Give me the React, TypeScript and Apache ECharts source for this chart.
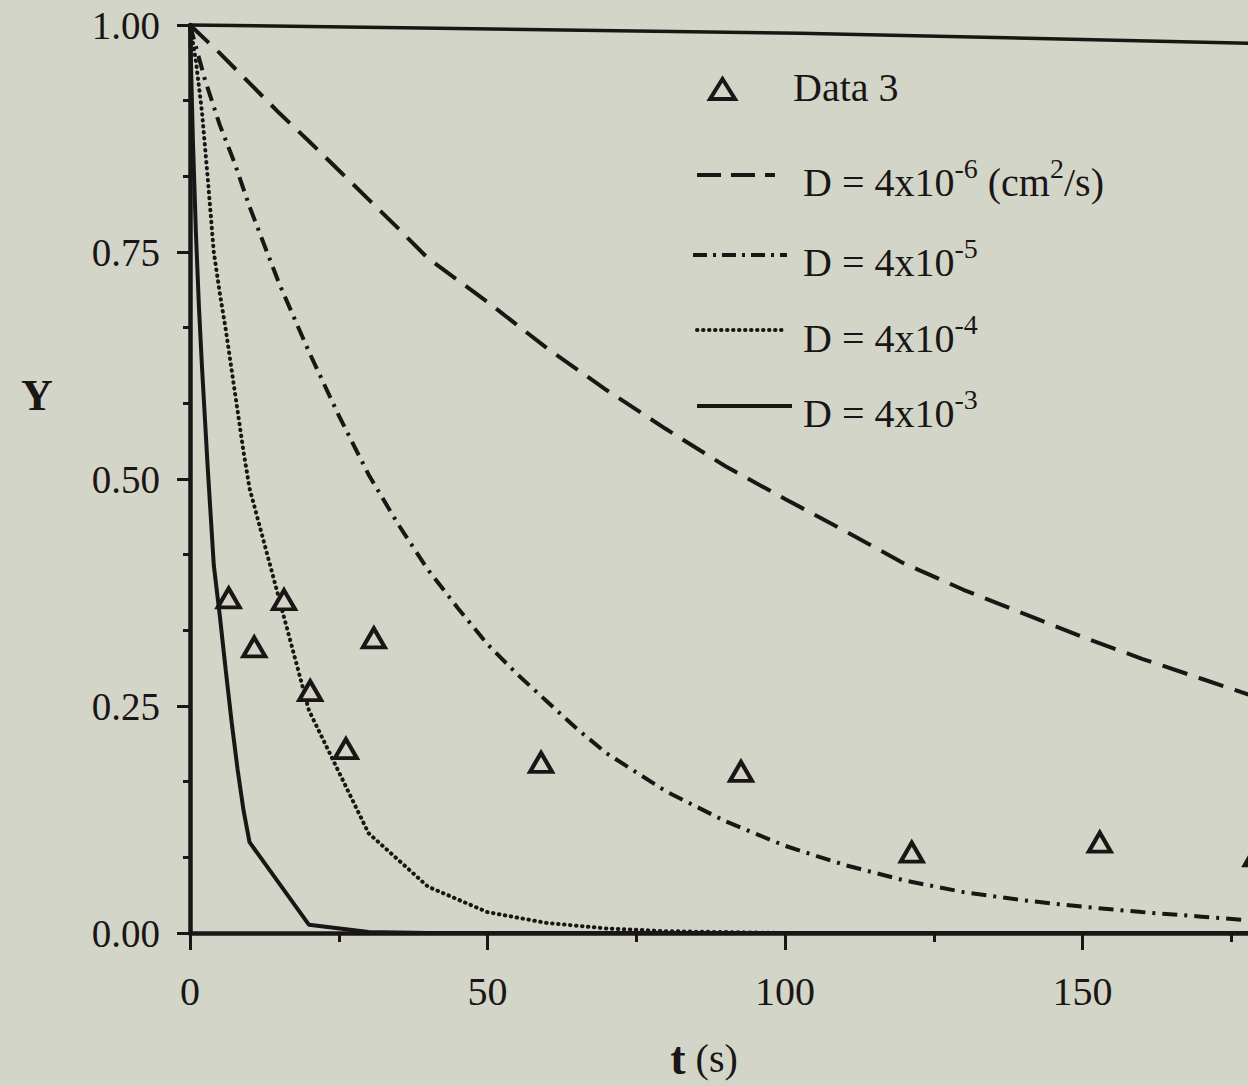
import React, { useEffect, useRef } from 'react';
import * as echarts from 'echarts';

// ---- data ----
const xTickLabels = ['0', '50', '100', '150'];
const yTickLabels = ['0.00', '0.25', '0.50', '0.75', '1.00'];

// measured points "Data 3"
const tData3 = [6.5, 10.8, 15.8, 20.2, 26.2, 30.9, 59.0, 92.6, 121.3, 152.9, 179.1];
const yData3 = [0.369, 0.315, 0.367, 0.267, 0.203, 0.325, 0.188, 0.178, 0.089, 0.1, 0.085];

// D = 4x10^-6 (dashed)
const tD6 = [0, 5, 10, 15, 20, 25, 30, 35, 40, 50, 60, 70, 80, 90, 100, 110, 120, 130, 140, 150, 160, 170, 180];
const yD6 = [1.0, 0.969, 0.936, 0.903, 0.872, 0.84, 0.808, 0.776, 0.743, 0.695, 0.644, 0.598, 0.555, 0.514, 0.478, 0.443, 0.407, 0.378, 0.352, 0.326, 0.302, 0.28, 0.258];

// D = 4x10^-5 (dash-dot)
const tD5 = [0, 2.5, 5, 7.5, 10, 15, 20, 25, 30, 35, 40, 45, 50, 55, 60, 65, 70, 80, 90, 100, 110, 120, 130, 140, 150, 160, 170, 180];
const yD5 = [1.0, 0.94, 0.89, 0.848, 0.8, 0.715, 0.64, 0.57, 0.505, 0.45, 0.4, 0.358, 0.318, 0.285, 0.255, 0.225, 0.198, 0.156, 0.123, 0.096, 0.075, 0.058, 0.045, 0.036, 0.029, 0.023, 0.018, 0.013];

// D = 4x10^-4 (dotted)
const tD4 = [0, 1, 2, 3, 4, 5, 6, 7, 8, 9, 10, 20, 30, 40, 50, 60, 70, 80, 90, 100, 120, 140, 160, 180];
const yD4 = [1.0, 0.96, 0.905, 0.83, 0.75, 0.705, 0.665, 0.62, 0.575, 0.53, 0.49, 0.245, 0.11, 0.051, 0.023, 0.011, 0.005, 0.002, 0.001, 0, 0, 0, 0, 0];

// D = 4x10^-3 (solid)
const tD3 = [0, 0.5, 1, 1.5, 2, 3, 4, 5, 6, 7, 8, 9, 10, 20, 30, 40, 60, 100, 180];
const yD3 = [1.0, 0.87, 0.77, 0.69, 0.625, 0.51, 0.405, 0.35, 0.29, 0.232, 0.18, 0.135, 0.1, 0.009, 0.001, 0, 0, 0, 0];

// top frame line (slightly sloping in the scan)
const tTop = [0, 38.7, 102.5, 178, 200];
const yTop = [1.0, 0.9967, 0.991, 0.98, 0.977];

const BG = '#d3d5c9';
const INK = '#1b1616';
const SERIF = 'Liberation Serif, Times New Roman, serif';

const zip = (t: number[], y: number[]) => t.map((v, i) => [v, y[i]]);

export default function App() {
  const ref = useRef<HTMLDivElement>(null);

  useEffect(() => {
    document.body.style.margin = '0';
    const chart = echarts.init(ref.current as HTMLDivElement, null, { renderer: 'svg' });

    const lineSeries = (name: string, t: number[], y: number[], type: any, width = 4, cap = 'butt') => ({
      name,
      type: 'line',
      data: zip(t, y),
      showSymbol: false,
      symbol: 'none',
      clip: false,
      silent: true,
      z: 3,
      lineStyle: { color: INK, width, type, cap },
    });

    const leg = (text: string, y: number) => ({
      type: 'text',
      x: 803,
      y,
      z: 100,
      style: {
        text,
        align: 'left',
        verticalAlign: 'middle',
        fill: INK,
        rich: {
          n: { fontSize: 40, fontFamily: SERIF, fill: INK, lineHeight: 48, verticalAlign: 'bottom' },
          s: { fontSize: 28, fontFamily: SERIF, fill: INK, lineHeight: 30, verticalAlign: 'top' },
        },
      },
    });

    const legLine = (x1: number, x2: number, y: number, dash: any, cap = 'butt') => ({
      type: 'line',
      z: 100,
      shape: { x1, y1: y, x2, y2: y },
      style: { stroke: INK, lineWidth: 4, lineDash: dash, lineCap: cap },
    });

    chart.setOption({
      animation: false,
      backgroundColor: BG,
      grid: { left: 190, top: 25, width: 1190, height: 908, containLabel: false, outerBoundsMode: 'none' },
      xAxis: {
        type: 'value',
        min: 0,
        max: 200,
        interval: 50,
        axisLine: { show: true, onZero: false, lineStyle: { color: INK, width: 4.5 } },
        axisTick: { show: true, length: 17, lineStyle: { color: INK, width: 3 } },
        minorTick: { show: true, splitNumber: 2, length: 9, lineStyle: { color: INK, width: 3 } },
        splitLine: { show: false },
        axisLabel: {
          color: INK,
          fontFamily: SERIF,
          fontSize: 40,
          margin: 38,
          formatter: (v: number) => {
            const i = Math.round(v / 50);
            return i < xTickLabels.length ? xTickLabels[i] : '';
          },
        },
      },
      yAxis: {
        type: 'value',
        min: 0,
        max: 1,
        interval: 0.25,
        axisLine: { show: true, onZero: false, lineStyle: { color: INK, width: 4.5 } },
        axisTick: { show: true, length: 13, lineStyle: { color: INK, width: 3 } },
        minorTick: { show: true, splitNumber: 3, length: 7, lineStyle: { color: INK, width: 3 } },
        splitLine: { show: false },
        axisLabel: {
          color: INK,
          fontFamily: SERIF,
          fontSize: 39,
          margin: 30,
          formatter: (v: number) => yTickLabels[Math.round(v / 0.25)] ?? '',
        },
      },
      series: [
        lineSeries('top', tTop, yTop, 'solid', 3.5),
        lineSeries('D = 4x10-6 (cm2/s)', tD6, yD6, [26, 12]),
        lineSeries('D = 4x10-5', tD5, yD5, [15, 7, 3, 7]),
        lineSeries('D = 4x10-4', tD4, yD4, [0.5, 5.5], 4, 'round'),
        lineSeries('D = 4x10-3', tD3, yD3, 'solid'),
        {
          name: 'Data 3',
          type: 'scatter',
          data: zip(tData3, yData3),
          symbol: 'triangle',
          symbolSize: [22, 19],
          clip: false,
          z: 5,
          itemStyle: { color: BG, borderColor: INK, borderWidth: 4, opacity: 1 },
        },
      ],
      graphic: [
        {
          type: 'polygon',
          z: 100,
          shape: { points: [[710, 99], [735, 99], [722.5, 79]] },
          style: { fill: BG, stroke: INK, lineWidth: 4 },
        },
        {
          type: 'text',
          x: 793,
          y: 87,
          z: 100,
          style: { text: 'Data 3', fontSize: 40, fontFamily: SERIF, fill: INK, align: 'left', verticalAlign: 'middle' },
        },
        legLine(697, 775, 175, [24, 10]),
        leg('{n|D = 4x10}{s|-6}{n| (cm}{s|2}{n|/s)}', 178),
        legLine(693, 787, 255, [14, 6, 3, 6]),
        leg('{n|D = 4x10}{s|-5}', 258),
        legLine(697, 782, 330, [0.5, 5.5], 'round'),
        leg('{n|D = 4x10}{s|-4}', 334),
        legLine(697, 792, 406, []),
        leg('{n|D = 4x10}{s|-3}', 409),
        {
          type: 'text',
          x: 37,
          y: 395,
          z: 100,
          style: { text: 'Y', fontSize: 44, fontWeight: 'bold', fontFamily: SERIF, fill: INK, align: 'center', verticalAlign: 'middle' },
        },
        {
          type: 'text',
          x: 704,
          y: 1058,
          z: 100,
          style: {
            text: '{b|t}{r| (s)}',
            align: 'center',
            verticalAlign: 'middle',
            fill: INK,
            rich: {
              b: { fontSize: 46, fontWeight: 'bold', fontFamily: SERIF, fill: INK },
              r: { fontSize: 40, fontFamily: SERIF, fill: INK },
            },
          },
        },
      ],
    });

    return () => chart.dispose();
  }, []);

  return <div ref={ref} style={{ width: 1248, height: 1086, background: BG }} />;
}
